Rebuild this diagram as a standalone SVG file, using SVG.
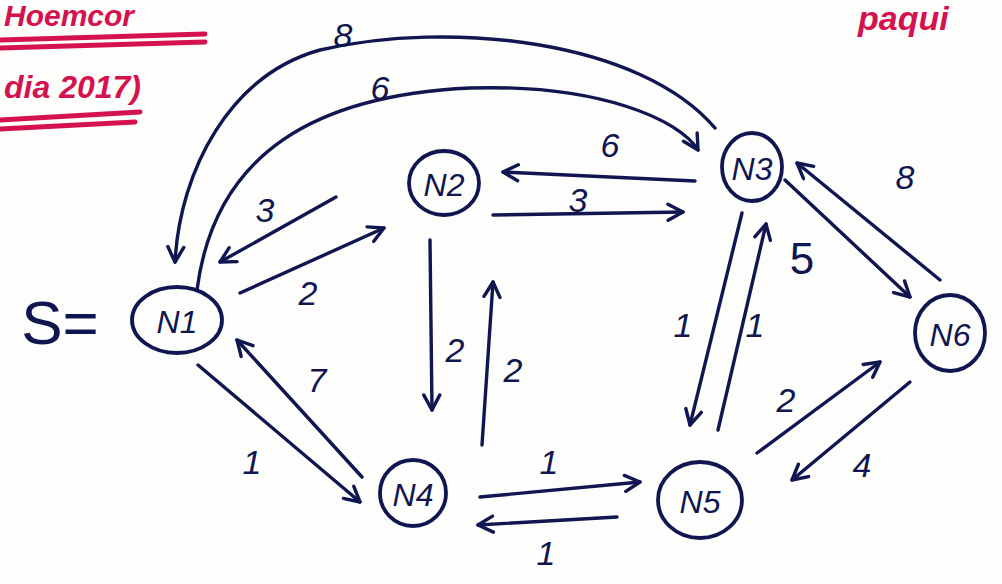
<svg xmlns="http://www.w3.org/2000/svg" width="1002" height="584" viewBox="0 0 1002 584">
<style>
.node ellipse{fill:none;stroke:#101650;stroke-width:3.8}
.node text{font-family:"Liberation Sans",sans-serif;font-style:italic;font-size:32px;fill:#101650;text-anchor:middle;dominant-baseline:central}
.edge{fill:none;stroke:#101650;stroke-width:3.4;stroke-linecap:round;marker-end:url(#ah)}
.lbl{font-family:"Liberation Sans",sans-serif;font-style:italic;font-size:34px;fill:#101650;text-anchor:middle;dominant-baseline:central}
.pink{font-family:"Liberation Sans",sans-serif;font-style:italic;font-weight:bold;fill:#d4124f}
.pl{stroke:#d4124f;stroke-width:5;stroke-linecap:round;fill:none}
</style>
<defs>
<marker id="ah" viewBox="0 0 20 20" refX="17" refY="10" markerWidth="20" markerHeight="20" markerUnits="userSpaceOnUse" orient="auto">
<path d="M2,2 L17,10 L2,18" fill="none" stroke="#101650" stroke-width="3.4" stroke-linecap="round" stroke-linejoin="round"/>
</marker>
</defs>
<rect width="1002" height="584" fill="#fdfdfb"/>
<g id="notes">
<text class="pink" x="4" y="26" style="font-size:30px">Hoemcor</text>
<path class="pl" d="M0,40 L205,34"/>
<path class="pl" d="M0,48 L205,42"/>
<text class="pink" x="4" y="98" style="font-size:32px">dia 2017)</text>
<path class="pl" d="M0,120 L140,112"/>
<path class="pl" d="M0,129 L135,122"/>
<text class="pink" x="858" y="30" style="font-size:34px">paqui</text>
<text class="lbl" x="60" y="322" style="font-size:62px;font-style:normal">S=</text>
</g>
<g id="connectors">
<path class="edge" d="M715,128 C640,40 450,20 320,50 C230,75 180,170 175,262"/>
<path class="edge" d="M197,290 C215,150 320,95 470,88 C600,84 680,120 698,150"/>
<path class="edge" d="M695,181 L503,172"/>
<path class="edge" d="M493,215 L683,212"/>
<path class="edge" d="M336,197 L220,262"/>
<path class="edge" d="M240,293 L384,228"/>
<path class="edge" d="M362,477 L237,340"/>
<path class="edge" d="M198,365 L360,502"/>
<path class="edge" d="M430,240 L432,410"/>
<path class="edge" d="M482,445 L493,282"/>
<path class="edge" d="M480,497 L640,482"/>
<path class="edge" d="M617,517 L478,525"/>
<path class="edge" d="M742,213 L690,425"/>
<path class="edge" d="M718,430 L766,224"/>
<path class="edge" d="M785,180 L910,297"/>
<path class="edge" d="M940,280 L797,163"/>
<path class="edge" d="M757,453 L880,362"/>
<path class="edge" d="M910,382 L792,480"/>
<text class="lbl" x="343" y="35">8</text>
<text class="lbl" x="380" y="88">6</text>
<text class="lbl" x="610" y="145">6</text>
<text class="lbl" x="578" y="200">3</text>
<text class="lbl" x="265" y="210">3</text>
<text class="lbl" x="308" y="293">2</text>
<text class="lbl" x="317" y="380">7</text>
<text class="lbl" x="252" y="462">1</text>
<text class="lbl" x="455" y="350">2</text>
<text class="lbl" x="513" y="370">2</text>
<text class="lbl" x="549" y="462">1</text>
<text class="lbl" x="546" y="553">1</text>
<text class="lbl" x="683" y="325">1</text>
<text class="lbl" x="755" y="325">1</text>
<text class="lbl" x="802" y="258" style="font-size:44px;font-style:normal">5</text>
<text class="lbl" x="905" y="177">8</text>
<text class="lbl" x="786" y="400">2</text>
<text class="lbl" x="862" y="465">4</text>
</g>
<g id="N1" class="node"><ellipse cx="177" cy="320" rx="45" ry="33"/><text x="177" y="322">N1</text></g>
<g id="N2" class="node"><ellipse cx="444" cy="183" rx="35" ry="32"/><text x="444" y="185">N2</text></g>
<g id="N3" class="node"><ellipse cx="752" cy="167" rx="30" ry="34"/><text x="752" y="169">N3</text></g>
<g id="N4" class="node"><ellipse cx="413" cy="493" rx="33" ry="33"/><text x="413" y="495">N4</text></g>
<g id="N5" class="node"><ellipse cx="700" cy="500" rx="42" ry="38"/><text x="700" y="502">N5</text></g>
<g id="N6" class="node"><ellipse cx="950" cy="333" rx="35" ry="38"/><text x="950" y="335">N6</text></g>
</svg>
